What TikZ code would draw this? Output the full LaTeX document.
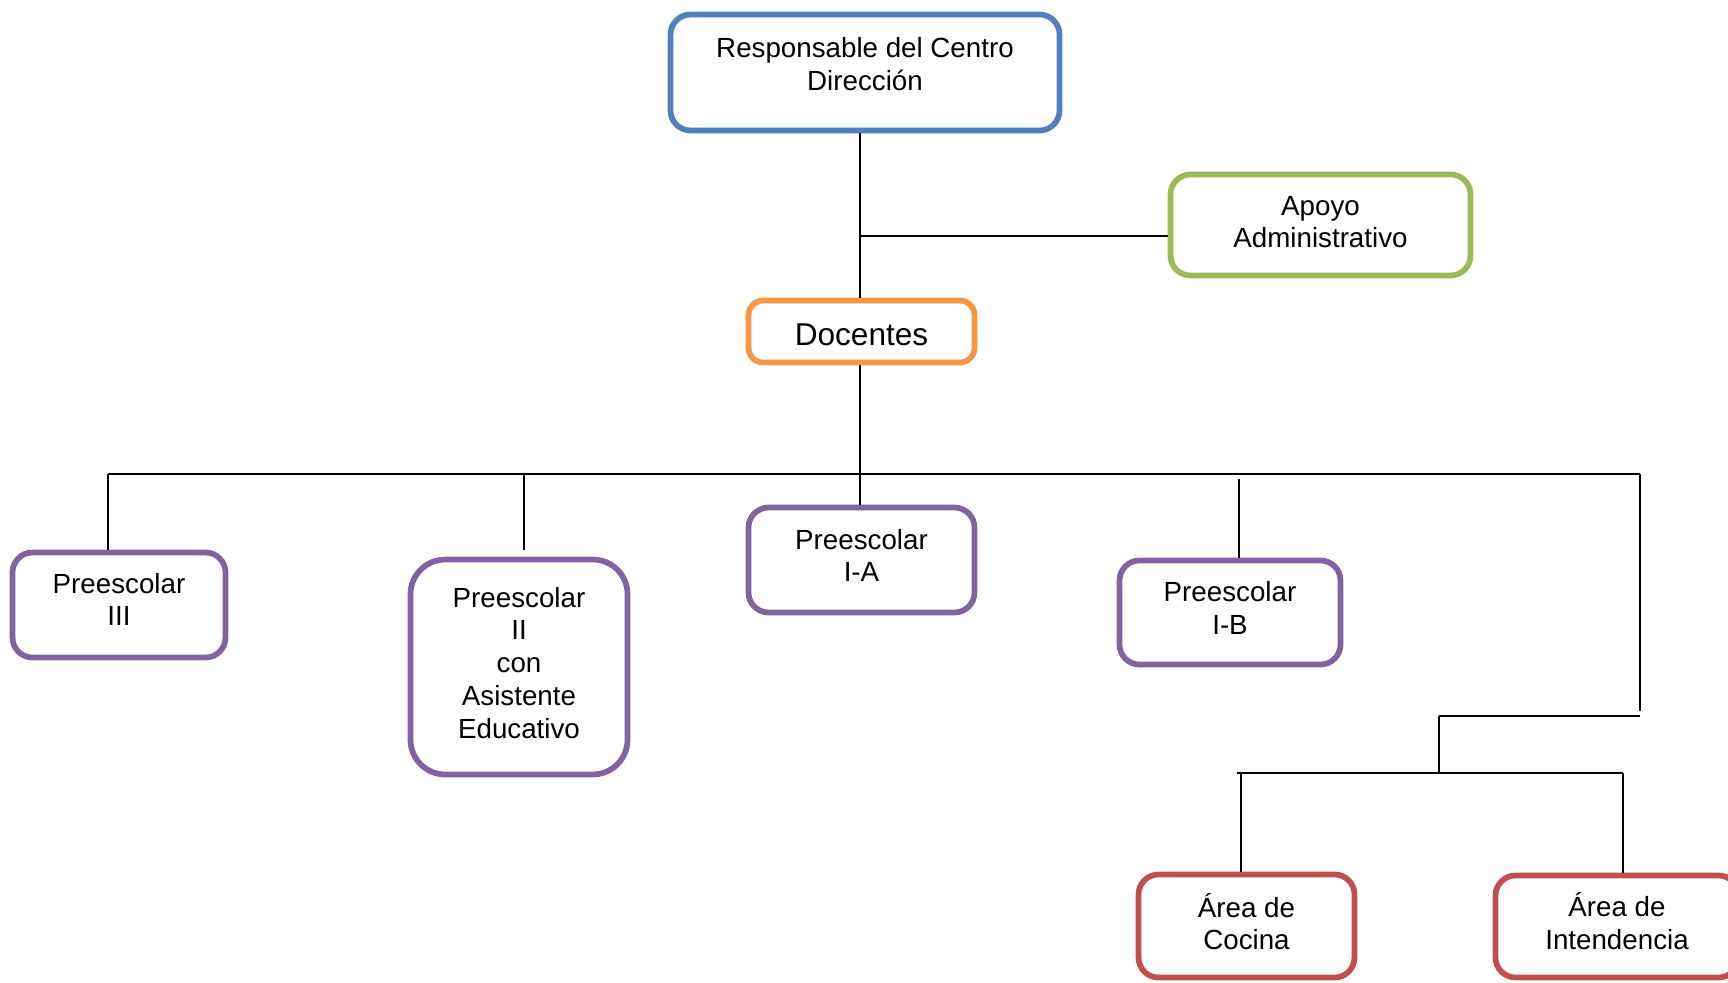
\documentclass[tikz,border=0pt]{standalone}
\usepackage{fontspec}
\setmainfont{Liberation Sans}
\definecolor{cblue}{HTML}{4F81BD}
\definecolor{cgreen}{HTML}{9BBB59}
\definecolor{corange}{HTML}{F79646}
\definecolor{cpurple}{HTML}{8064A2}
\definecolor{cred}{HTML}{C0504D}
\tikzset{
  box/.style={draw, line width=4.3pt, fill=white, align=center, inner xsep=2pt, inner ysep=0pt,
    rounded corners=15pt, font=\fontsize{20.8pt}{24.6pt}\selectfont},
  conn/.style={draw=black, line width=1.4pt},
}
\begin{document}
\begin{tikzpicture}[x=0.75pt,y=-0.75pt]
\useasboundingbox (0,0) rectangle (1728,982);
\fill[white] (0,0) rectangle (1728,982);

% nodes
\node[box, draw=cblue, minimum width=291.75pt, text height=56.85pt, text depth=30.15pt] (resp) at (865,72.5) {Responsable del Centro\\Dirección};
\node[box, draw=cgreen, minimum width=225pt, text height=55pt, text depth=20.8pt] (apoyo) at (1320.5,225) {Apoyo\\Administrativo};
\node[box, draw=corange, rounded corners=11pt, minimum width=169.5pt, text height=33.4pt, text depth=13.1pt, font=\fontsize{23.7pt}{28pt}\selectfont] (doc) at (861.5,331.5) {Docentes};
\node[box, draw=cpurple, minimum width=159.75pt, text height=55pt, text depth=23.8pt] (p3) at (119,605) {Preescolar\\III};
\node[box, draw=cpurple, rounded corners=26pt, minimum width=162.75pt, text height=134pt, text depth=27.2pt] (p2) at (519,667) {Preescolar\\II\\con\\Asistente\\Educativo};
\node[box, draw=cpurple, minimum width=169.5pt, text height=55.7pt, text depth=23pt] (ia) at (861.5,560) {Preescolar\\I-A};
\node[box, draw=cpurple, minimum width=165.75pt, text height=55.7pt, text depth=22.3pt] (ib) at (1230,612.5) {Preescolar\\I-B};
\node[box, draw=cred, minimum width=162pt, text height=56.5pt, text depth=20.8pt] (coc) at (1246.5,926) {Área de\\Cocina};
\node[box, draw=cred, minimum width=182.25pt, text height=55.7pt, text depth=20.8pt] (int) at (1617,926.5) {Área de\\Intendencia};

% junction coordinates
\coordinate (jA) at (860,236);
\coordinate (busL) at (108,474);
\coordinate (busR) at (1640,474);
\coordinate (b2) at (524,474);
\coordinate (bB) at (1239,479);
\coordinate (rEnd) at (1640,711);
\coordinate (k1) at (1439,716);
\coordinate (k2) at (1640,716);
\coordinate (lbL) at (1237,773);
\coordinate (lbM) at (1439,773);
\coordinate (lbR) at (1623,773);
\coordinate (lbC) at (1241,773);

% connectors
\draw[conn] (resp.south -| jA) -- (doc.north -| jA);
\draw[conn] (jA) -- (jA -| apoyo.west);
\draw[conn] (doc.south -| jA) -- (ia.north -| jA);
\draw[conn] (busL) -- (busR);
\draw[conn] (busL) -- (busL |- p3.north);
\draw[conn, shorten >=5pt] (b2) -- (b2 |- p2.north);
\draw[conn] (bB) -- (bB |- ib.north);
\draw[conn] (busR) -- (rEnd);
\draw[conn] (k1) -- (k2);
\draw[conn] (k1) -- (lbM);
\draw[conn] (lbL) -- (lbR);
\draw[conn] (lbC) -- (lbC |- coc.north);
\draw[conn] (lbR) -- (lbR |- int.north);
\end{tikzpicture}
\end{document}
